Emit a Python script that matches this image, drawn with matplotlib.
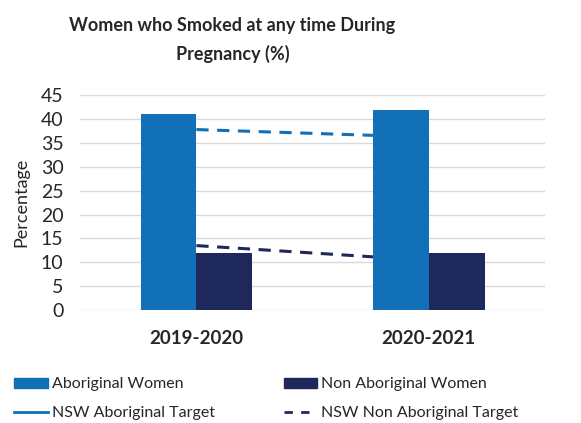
import matplotlib
matplotlib.use("Agg")
import matplotlib.pyplot as plt
import numpy as np
from matplotlib.patches import Patch
from matplotlib.lines import Line2D

# Datos
periodos = ["2019-2020", "2020-2021"]
aboriginal = [41, 42]
no_aboriginal = [12, 12]
meta_aboriginal = [37.8, 36.2]
meta_no_aboriginal = [13.5, 10.4]

azul = "#1170B8"
marino = "#1F285A"

plt.rcParams["font.family"] = ["Lato", "DejaVu Sans"]

fig = plt.figure(figsize=(5.81, 4.23), dpi=100)
ax = fig.add_axes([0.138, 0.267, 0.800, 0.508])

x = np.arange(len(periodos))
ancho = 0.24

# Lineas de meta (detrás de las barras)
ax.plot(x, meta_aboriginal, color=azul, lw=2.2, ls=(0, (4, 2.8)), zorder=2)
ax.plot(x, meta_no_aboriginal, color=marino, lw=2.2, ls=(0, (4, 2.8)), zorder=2)

# Barras
ax.bar(x - ancho / 2, aboriginal, ancho, color=azul, zorder=3)
ax.bar(x + ancho / 2, no_aboriginal, ancho, color=marino, zorder=3)

ax.set_xlim(-0.5, 1.5)
ax.set_ylim(0, 45)
ax.set_yticks(np.arange(0, 46, 5))
ax.yaxis.grid(True, color="#D9D9D9", lw=1)
ax.set_axisbelow(True)
for s in ax.spines.values():
    s.set_visible(False)
ax.tick_params(axis="both", length=0)
ax.tick_params(axis="y", labelsize=14, colors="#262626", pad=12)
ax.set_xticks(x)
ax.set_xticklabels(periodos, fontsize=13.5, fontweight="bold", color="#262626")
ax.tick_params(axis="x", pad=14)
ax.set_ylabel("Percentage", fontsize=13, color="#262626", labelpad=8)

# Titulo
fig.text(0.40, 0.96, "Women who Smoked at any time During\nPregnancy (%)",
         ha="center", va="top", fontsize=13, fontweight="bold",
         color="#262626", linespacing=1.7)

# Leyenda
handles = [
    Patch(color=azul, label="Aboriginal Women"),
    Line2D([0], [0], color=azul, lw=2, label="NSW Aboriginal Target"),
    Patch(color=marino, label="Non Aboriginal Women"),
    Line2D([0], [0], color=marino, lw=2, ls=(0, (3, 3)), label="NSW Non Aboriginal Target"),
]
fig.legend(handles=handles, ncol=2, loc="lower left",
           bbox_to_anchor=(0.0, -0.028), frameon=False, fontsize=11.5,
           handlelength=2.1, handleheight=0.6, handletextpad=0.25,
           columnspacing=4.3, labelspacing=0.95, labelcolor="#262626")

fig.savefig("out.png", dpi=100)
